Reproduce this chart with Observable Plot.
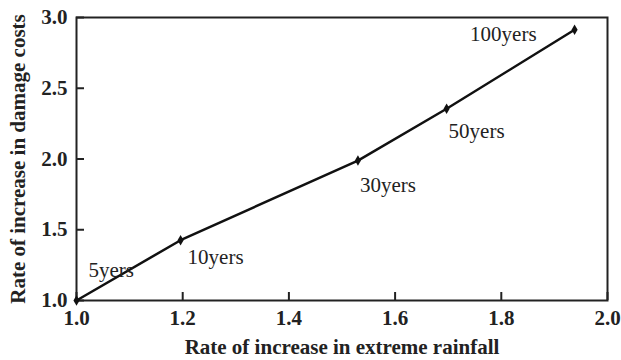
<!DOCTYPE html>
<html>
<head>
<meta charset="utf-8">
<script src="https://cdn.jsdelivr.net/npm/d3@7"></script>
<script src="https://cdn.jsdelivr.net/npm/@observablehq/plot@0.6"></script>
<style>
  html, body { margin: 0; padding: 0; background: #fff; }
  #chart svg { display: block; }
</style>
</head>
<body>
<div id="chart"></div>
<script>
// Data
const rainfallRate = [1.0, 1.196, 1.53, 1.697, 1.938];
const damageRate   = [1.0, 1.426, 1.989, 2.355, 2.913];
const returnPeriods = ["5yers", "10yers", "30yers", "50yers", "100yers"];
const xTicks = [1.0, 1.2, 1.4, 1.6, 1.8, 2.0];
const yTicks = [1.0, 1.5, 2.0, 2.5, 3.0];

// label placement styles (pixel offsets from each point)
const labelDx = [12, 7, 2, 2, -38];
const labelDy = [-30, 17, 25, 22, 4];
const labelAnchor = ["start", "start", "start", "start", "end"];

const data = rainfallRate.map((x, i) => ({
  x, y: damageRate[i], label: returnPeriods[i],
  dx: labelDx[i], dy: labelDy[i], anchor: labelAnchor[i]
}));

const serif = "'Liberation Serif', 'Times New Roman', serif";

const labelMarks = data.map(d => Plot.text([d], {
  x: "x", y: "y", text: "label",
  dx: d.dx, dy: d.dy, textAnchor: d.anchor,
  fontSize: 21, fontFamily: serif, fill: "#222"
}));

const chart = Plot.plot({
  width: 621,
  height: 360,
  marginLeft: 76,
  marginRight: 14,
  marginTop: 17,
  marginBottom: 60,
  style: { fontFamily: serif, background: "#fff", color: "#222" },
  x: { domain: [1, 2] },
  y: { domain: [1, 3] },
  marks: [
    Plot.frame({ stroke: "#222", strokeWidth: 2 }),
    Plot.axisX({
      ticks: xTicks, tickFormat: d3.format(".1f"),
      tickSize: -8, tickPadding: 18, strokeWidth: 2,
      fontSize: 21, fontWeight: "bold", label: null
    }),
    Plot.axisY({
      ticks: yTicks, tickFormat: d3.format(".1f"),
      tickSize: -8, tickPadding: 17, strokeWidth: 2,
      fontSize: 21, fontWeight: "bold", label: null
    }),
    Plot.text(["Rate of increase in extreme rainfall"], {
      frameAnchor: "bottom", dy: 47, text: d => d, lineAnchor: "middle",
      fontSize: 21, fontWeight: "bold", fontFamily: serif, fill: "#222"
    }),
    Plot.text(["Rate of increase in damage costs"], {
      frameAnchor: "left", dx: -58, rotate: -90, text: d => d,
      textAnchor: "middle", lineAnchor: "middle",
      fontSize: 21, fontWeight: "bold", fontFamily: serif, fill: "#222"
    }),
    Plot.line(data, { x: "x", y: "y", curve: "linear", stroke: "#111", strokeWidth: 2.5 }),
    Plot.dot(data, { x: "x", y: "y", symbol: "diamond", r: 3.2, fill: "#111" }),
    ...labelMarks
  ]
});
document.getElementById("chart").appendChild(chart);
</script>
</body>
</html>
